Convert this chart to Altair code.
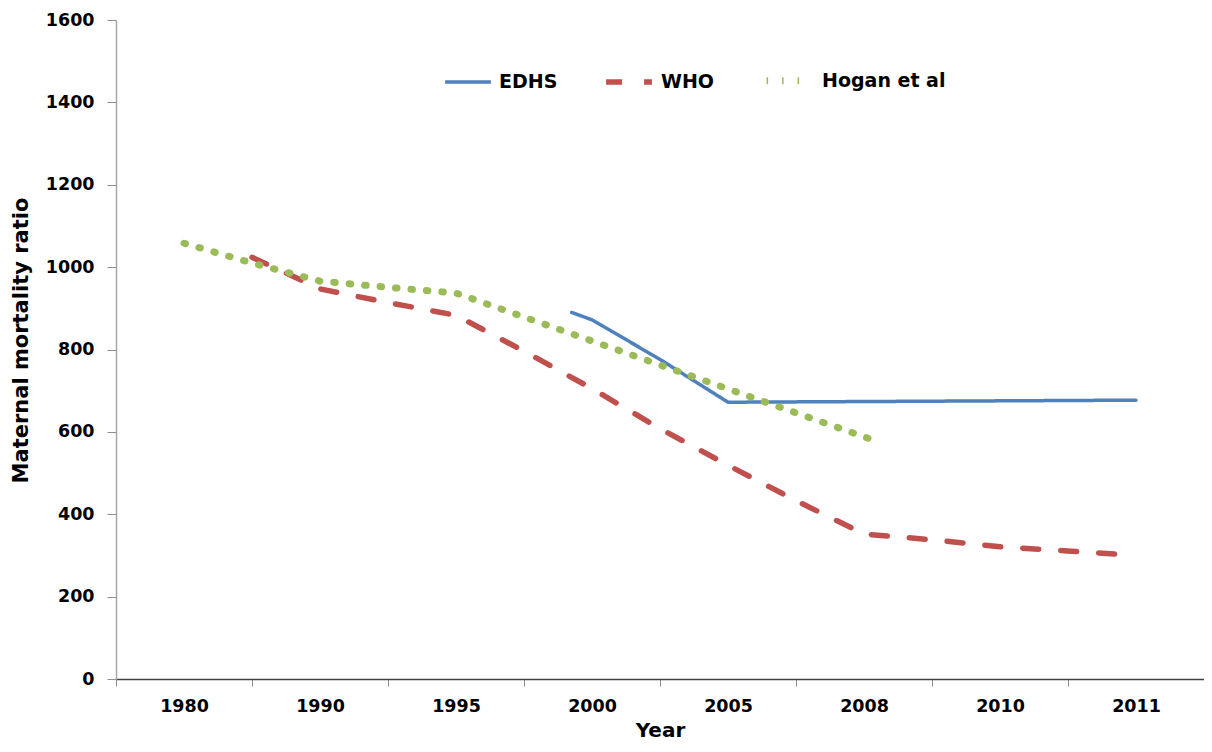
import altair as alt
import pandas as pd

years = ["1980", "1990", "1995", "2000", "2005", "2008", "2010", "2011"]
series = ["EDHS", "WHO", "Hogan et al"]
colors = ["#4F81BD", "#C0504D", "#9BBB59"]

# positions in category units (0 = left edge of first category, i + 0.5 = centre of category i)
edhs_pos = [3.35, 3.5, 4.0, 4.5, 7.5]
edhs_val = [890, 872, 776, 672, 677]
who_pos = [1.0, 1.5, 2.0, 2.5, 3.0, 3.5, 4.0, 4.5, 5.0, 5.5, 6.0, 6.5, 7.0, 7.36]
who_val = [1024, 947, 914, 883, 796, 705, 608, 519, 433, 352, 338, 321, 311, 303]
hogan_pos = [0.5, 1.0, 1.5, 2.0, 2.5, 5.56]
hogan_val = [1058, 1010, 966, 951, 937, 581]

rows = []
for name, ps, vs in [("EDHS", edhs_pos, edhs_val), ("WHO", who_pos, who_val), ("Hogan et al", hogan_pos, hogan_val)]:
    for i, (p, v) in enumerate(zip(ps, vs)):
        rows.append({"series": name, "pos": p, "value": v, "order": i})
df = pd.DataFrame(rows)

FONT = "DejaVu Sans"

band = alt.Chart(pd.DataFrame({"year": years})).mark_point(opacity=0).encode(
    x=alt.X(
        "year:O",
        sort=years,
        scale=alt.Scale(type="band", paddingInner=0, paddingOuter=0),
        axis=alt.Axis(
            title="Year",
            tickBand="extent",
            labelAngle=0,
            labelFont=FONT,
            labelFontSize=17.5,
            labelFontWeight="bold",
            labelColor="#000000",
            labelPadding=11,
            tickColor="#8c8c8c",
            tickSize=7,
            domainColor="#404040",
            domainWidth=1.5,
            titleFont=FONT,
            titleFontSize=20,
            titleFontWeight="bold",
            titleColor="#000000",
            titlePadding=6,
            grid=False,
        ),
    )
)

lines = alt.Chart(df).mark_line(strokeCap="round", strokeJoin="round").encode(
    x=alt.X("pos:Q", scale=alt.Scale(domain=[0, 8], nice=False, zero=False), axis=None),
    y=alt.Y(
        "value:Q",
        scale=alt.Scale(domain=[0, 1600], nice=False),
        axis=alt.Axis(
            title="Maternal mortality ratio",
            values=list(range(0, 1601, 200)),
            format="d",
            labelFont=FONT,
            labelFontSize=17.5,
            labelFontWeight="bold",
            labelColor="#000000",
            labelPadding=13,
            tickColor="#8c8c8c",
            tickSize=9,
            domainColor="#a6a6a6",
            domainWidth=1.5,
            titleFont=FONT,
            titleFontSize=21,
            titleFontWeight="bold",
            titleColor="#000000",
            titlePadding=14,
            titleY=320,
            grid=False,
        ),
    ),
    color=alt.Color(
        "series:O",
        scale=alt.Scale(domain=series, range=colors),
        legend=alt.Legend(
            title=None,
            orient="none",
            direction="horizontal",
            legendX=327,
            legendY=34,
            symbolType="stroke",
            symbolSize=2100,
            labelFont=FONT,
            labelFontSize=19,
            labelFontWeight="bold",
            labelColor="#000000",
            labelOffset=6,
            columnPadding=37,
        ),
    ),
    strokeDash=alt.StrokeDash(
        "series:O",
        scale=alt.Scale(domain=series, range=[[1, 0], [16, 22], [1.5, 14]]),
        legend=alt.Legend(title=None),
    ),
    strokeWidth=alt.StrokeWidth(
        "series:O",
        scale=alt.Scale(type="ordinal", domain=series, range=[3.5, 5.5, 7]),
        legend=alt.Legend(title=None),
    ),
    order="order:Q",
)

chart = alt.layer(band, lines).resolve_scale(x="independent").properties(
    width=1088,
    height=659,
    autosize=alt.AutoSizeParams(type="none"),
    padding={"left": 108, "top": 12, "right": 0, "bottom": 64},
).configure_view(stroke=None).configure_line(
    strokeCap="round"
)

chart.save("out.html", embed_options={"renderer": "svg", "actions": False})
